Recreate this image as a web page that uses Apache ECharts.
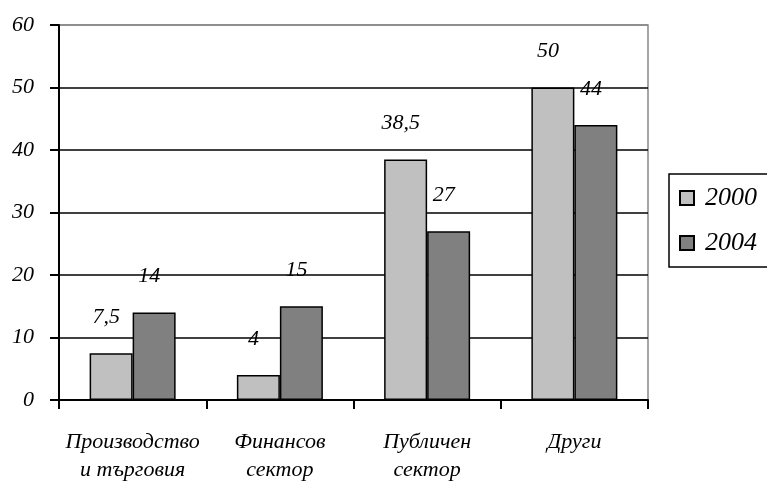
<!DOCTYPE html>
<html>
<head>
<meta charset="utf-8">
<script src="https://cdn.jsdelivr.net/npm/echarts@6/dist/echarts.min.js"></script>
<style>
  html, body { margin: 0; padding: 0; background: #fff; }
  #chart { width: 767px; height: 488px; }
</style>
</head>
<body>
<div id="chart"></div>
<script>
const categories = ['Производство\nи търговия', 'Финансов\nсектор', 'Публичен\nсектор', 'Други'];
const values2000 = [7.5, 4, 38.5, 50];
const values2004 = [14, 15, 27, 44];
const yTicks = [0, 10, 20, 30, 40, 50, 60];

const font = "'Liberation Serif', 'Times New Roman', serif";
const chart = echarts.init(document.getElementById('chart'));

const labelStyle = {
  show: true,
  position: 'top',
  distance: 25,
  offset: [-5, 0],
  color: '#000',
  fontFamily: font,
  fontStyle: 'italic',
  fontSize: 22,
  formatter: (p) => String(p.value).replace('.', ',')
};

chart.setOption({
  animation: false,
  grid: {
    left: 59, right: 119, top: 25, bottom: 88,
    show: true, borderColor: '#888', borderWidth: 1.5, backgroundColor: 'transparent'
  },
  legend: {
    orient: 'vertical',
    left: 669,
    top: 174,
    padding: [11, 20, 11, 10],
    itemGap: 19,
    itemWidth: 14,
    itemHeight: 14,
    borderColor: '#000',
    borderWidth: 1.5,
    icon: 'rect',
    textStyle: { color: '#000', fontFamily: font, fontStyle: 'italic', fontSize: 26, padding: [0, 0, 0, 6] },
    data: ['2000', '2004']
  },
  xAxis: {
    type: 'category',
    data: categories,
    axisLine: { lineStyle: { color: '#000', width: 2 } },
    axisTick: { show: true, length: 9, lineStyle: { color: '#000', width: 2 } },
    axisLabel: {
      color: '#000', fontFamily: font, fontStyle: 'italic', fontSize: 22,
      lineHeight: 28, margin: 28, interval: 0
    }
  },
  yAxis: {
    type: 'value',
    min: yTicks[0],
    max: yTicks[yTicks.length - 1],
    interval: 10,
    axisLine: { show: true, lineStyle: { color: '#000', width: 2 } },
    axisTick: { show: true, length: 9, lineStyle: { color: '#000', width: 2 } },
    axisLabel: { color: '#000', fontFamily: font, fontStyle: 'italic', fontSize: 22, margin: 25 },
    splitLine: {
      lineStyle: { color: ['#000', '#000', '#000', '#000', '#000', '#000', '#888'], width: 1.5 }
    }
  },
  series: [
    {
      name: '2000',
      type: 'bar',
      data: values2000,
      barWidth: 43,
      barGap: '0%',
      itemStyle: { color: '#c0c0c0', borderColor: '#000', borderWidth: 1.5 },
      label: labelStyle
    },
    {
      name: '2004',
      type: 'bar',
      data: values2004,
      barWidth: 43,
      barGap: '0%',
      itemStyle: { color: '#808080', borderColor: '#000', borderWidth: 1.5 },
      label: labelStyle
    }
  ]
});
</script>
</body>
</html>
